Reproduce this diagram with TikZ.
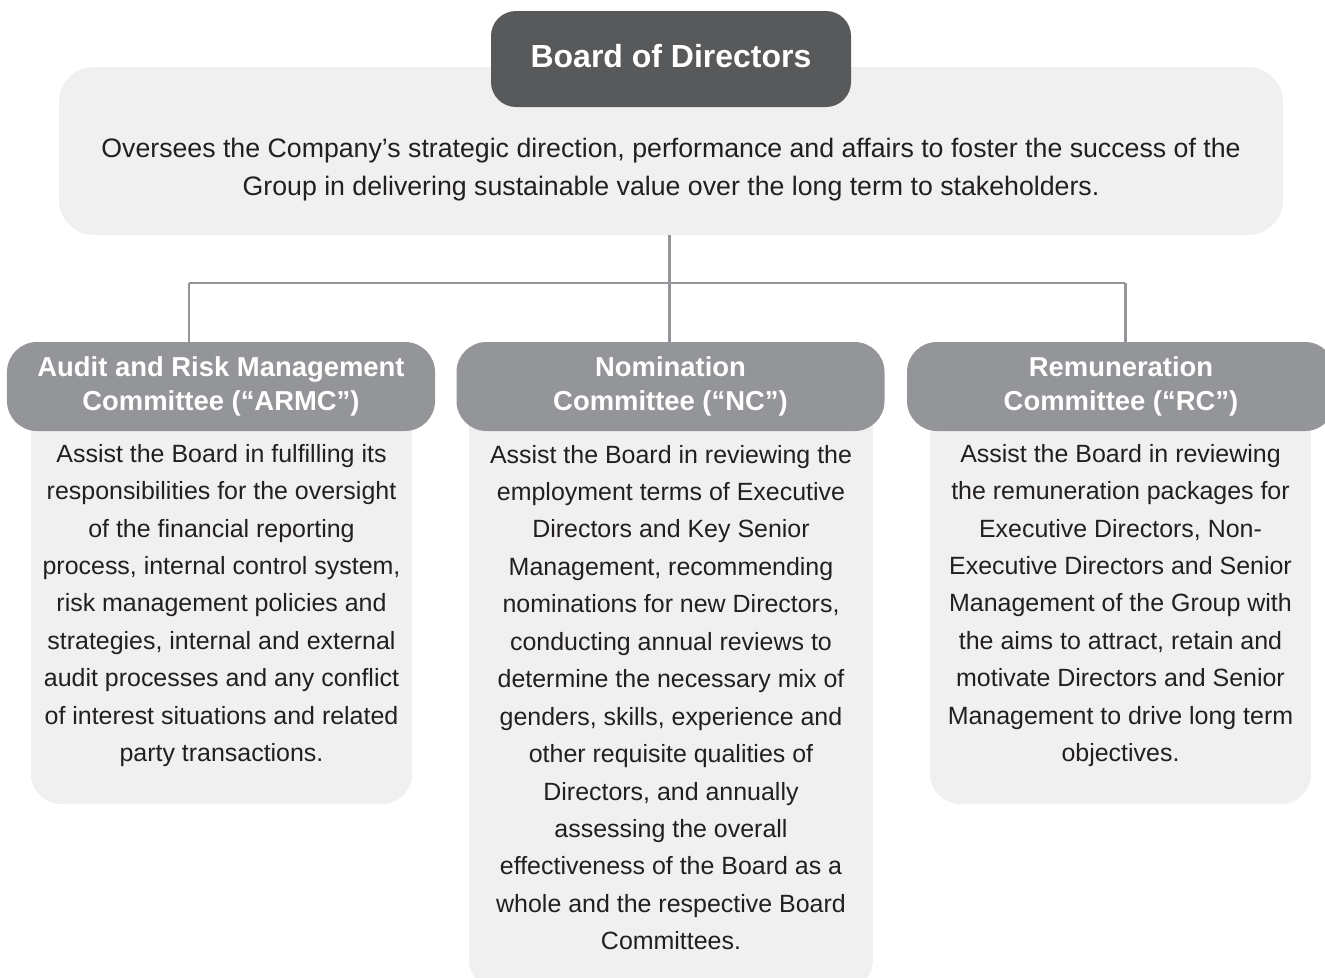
\documentclass[tikz,border=0pt]{standalone}
\usepackage{fontspec}
\setmainfont{Liberation Sans}
\usepackage{tikz}
\usetikzlibrary{positioning, calc}

\definecolor{boardgrey}{HTML}{58595B}
\definecolor{headgrey}{HTML}{939598}
\definecolor{panelgrey}{HTML}{F0F0F0}
\definecolor{inkgrey}{HTML}{231F20}

\begin{document}
\begin{tikzpicture}[
    board/.style={rectangle, rounded corners=0.5cm, fill=boardgrey, text=white,
                  minimum width=7.2cm, minimum height=1.92cm, inner sep=0pt,
                  font=\bfseries\fontsize{18.2}{22}\selectfont},
    panel/.style={rectangle, rounded corners=0.7cm, fill=panelgrey, inner sep=0pt},
    committee/.style={rectangle, rounded corners=0.6cm, fill=headgrey, text=white,
                  minimum width=8.56cm, minimum height=1.78cm, inner sep=0pt, align=center,
                  font=\bfseries\fontsize{15.6}{19.3}\selectfont},
    duty/.style={rectangle, rounded corners=0.6cm, fill=panelgrey, inner sep=0pt},
    blurb/.style={text=inkgrey, align=center, inner sep=0pt,
                  font=\fontsize{14.2}{21.3}\selectfont},
    link/.style={draw=headgrey, line width=1.7pt}
]

    % Canvas
    \useasboundingbox (0, 0) rectangle (26.5, -19.54);

    % Board of Directors
    \node[panel, minimum width=24.48cm, minimum height=3.36cm] (boardbox) at (13.42, -3.02) {};
    \node[board] (board) at (13.42, -1.18) {};
    \node[text=white, font=\bfseries\fontsize{18.2}{22}\selectfont] (boardtitle) at (13.42, -1.12) {Board of Directors};
    \node[blurb, font=\fontsize{15.2}{21.6}\selectfont] (boardtext) at (13.42, -3.40)
        {Oversees the Company’s strategic direction, performance and affairs to foster the success of the\\
         Group in delivering sustainable value over the long term to stakeholders.};

    % Committee panels (drawn behind the headers)
    \node[duty, minimum width=7.62cm, minimum height=8.68cm] (armcbox) at (4.43, -11.74) {};
    \node[duty, minimum width=8.08cm, minimum height=12.4cm] (ncbox) at (13.42, -13.6) {};
    \node[duty, minimum width=7.62cm, minimum height=8.68cm] (rcbox) at (22.41, -11.74) {};

    % Connectors
    \coordinate (armcjoin) at (3.78, -5.66);
    \coordinate (rcjoin) at (22.5, -5.66);
    \node[committee] (armc) at (4.42, -7.73) {Audit and Risk Management\\Committee (“ARMC”)};
    \node[committee] (nc) at (13.41, -7.73) {Nomination\\Committee (“NC”)};
    \node[committee] (rc) at (22.42, -7.73) {Remuneration\\Committee (“RC”)};
    \draw[link] (boardbox.south -| 13.38, 0) -- (13.38, 0 |- nc.north);
    \draw[link] (armcjoin) -- (rcjoin);
    \draw[link] (armcjoin) -- (armcjoin |- armc.north);
    \draw[link] (rcjoin) -- (rcjoin |- rc.north);

    % Committee duties
    \node[blurb] (armctext) at (4.43, -12.11)
        {Assist the Board in fulfilling its\\
         responsibilities for the oversight\\
         of the financial reporting\\
         process, internal control system,\\
         risk management policies and\\
         strategies, internal and external\\
         audit processes and any conflict\\
         of interest situations and related\\
         party transactions.};
    \node[blurb] (nctext) at (13.42, -13.95)
        {Assist the Board in reviewing the\\
         employment terms of Executive\\
         Directors and Key Senior\\
         Management, recommending\\
         nominations for new Directors,\\
         conducting annual reviews to\\
         determine the necessary mix of\\
         genders, skills, experience and\\
         other requisite qualities of\\
         Directors, and annually\\
         assessing the overall\\
         effectiveness of the Board as a\\
         whole and the respective Board\\
         Committees.};
    \node[blurb] (rctext) at (22.41, -12.11)
        {Assist the Board in reviewing\\
         the remuneration packages for\\
         Executive Directors, Non-\\
         Executive Directors and Senior\\
         Management of the Group with\\
         the aims to attract, retain and\\
         motivate Directors and Senior\\
         Management to drive long term\\
         objectives.};

\end{tikzpicture}
\end{document}
